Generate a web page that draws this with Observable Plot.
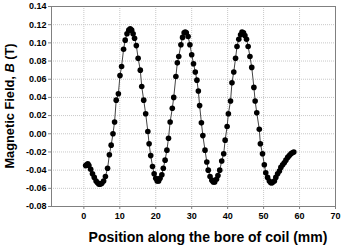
<!DOCTYPE html>
<html><head><meta charset="utf-8">
<script src="https://cdn.jsdelivr.net/npm/d3@7"></script>
<script src="https://cdn.jsdelivr.net/npm/@observablehq/plot@0.6"></script>
<style>body{margin:0;background:#fff}</style>
</head><body><div id="chart"></div>
<script>
const position = [0.5,0.8,1.1,1.4,1.9,2.4,2.9,3.4,3.8,4.2,4.6,5.0,5.5,6.0,6.6,7.1,7.6,8.1,8.55,9.0,9.6,10.05,10.5,11.05,11.5,12.0,12.5,12.9,13.3,13.7,14.1,14.6,15.1,15.7,16.1,16.65,17.2,17.8,18.15,18.6,19.1,19.55,20.0,20.4,20.8,21.2,21.7,22.1,22.6,23.1,23.55,24.0,24.6,25.0,25.6,26.0,26.4,27.0,27.45,27.9,28.2,28.5,29.0,29.5,30.0,30.5,31.0,31.45,31.85,32.2,32.7,33.1,33.7,34.2,34.6,35.1,35.6,36.0,36.4,36.9,37.3,37.8,38.35,38.9,39.3,39.85,40.2,40.8,41.2,41.7,42.2,42.6,43.1,43.6,44.0,44.4,44.8,45.25,45.7,46.2,46.7,47.3,47.65,48.1,48.8,49.1,49.7,50.2,50.6,51.1,51.6,52.0,52.4,53.0,53.4,53.9,54.4,54.8,55.3,55.75,56.2,56.7,57.15,57.6,58.0,58.4];
const field = [-0.035,-0.034,-0.033,-0.035,-0.039,-0.044,-0.048,-0.052,-0.054,-0.0555,-0.0555,-0.0545,-0.052,-0.047,-0.038,-0.023,-0.0125,0.000,0.013,0.037,0.044,0.064,0.074,0.093,0.103,0.110,0.114,0.1155,0.114,0.110,0.105,0.097,0.083,0.070,0.052,0.037,0.022,0.0025,-0.011,-0.024,-0.036,-0.044,-0.049,-0.052,-0.052,-0.049,-0.045,-0.038,-0.029,-0.018,-0.005,0.013,0.028,0.040,0.063,0.078,0.085,0.098,0.106,0.111,0.112,0.111,0.107,0.098,0.087,0.077,0.068,0.059,0.047,0.031,0.012,-0.002,-0.018,-0.031,-0.040,-0.047,-0.051,-0.053,-0.053,-0.050,-0.046,-0.040,-0.030,-0.022,-0.007,0.008,0.022,0.036,0.056,0.068,0.083,0.096,0.104,0.109,0.112,0.111,0.108,0.104,0.096,0.085,0.073,0.051,0.036,0.023,0.005,-0.011,-0.022,-0.034,-0.043,-0.048,-0.052,-0.054,-0.054,-0.052,-0.048,-0.044,-0.041,-0.037,-0.034,-0.032,-0.029,-0.026,-0.024,-0.022,-0.021,-0.020];
const xTicks = [0,10,20,30,40,50,60,70];
const yTicks = [-0.08,-0.06,-0.04,-0.02,0,0.02,0.04,0.06,0.08,0.10,0.12,0.14];
const xLabel = "Position along the bore of coil (mm)";
const yLabelParts = ["Magnetic Field, ", "B", " (T)"];

const data = position.map((p, i) => ({p, b: field[i]}));

const chart = Plot.plot({
  width: 342, height: 249,
  marginLeft: 51, marginRight: 7, marginTop: 6, marginBottom: 43,
  style: {fontFamily: "'Liberation Sans', Arial, sans-serif", fontWeight: "bold", fontSize: "9px", background: "#fff", color: "#000"},
  x: {domain: [-9, 70], ticks: xTicks, label: null},
  y: {domain: [-0.08, 0.14], ticks: yTicks, label: null},
  marks: [
    Plot.gridX(xTicks.filter(d => d < 70), {stroke: "#c8c8c8", strokeOpacity: 1, strokeDasharray: "1,1"}),
    Plot.gridY(yTicks.filter(d => d > -0.08 && d < 0.14), {stroke: "#c8c8c8", strokeOpacity: 1, strokeDasharray: "1,1"}),
    Plot.frame({stroke: "#808080"}),
    Plot.axisX({ticks: xTicks, tickSize: 3, tickPadding: 3, label: null, stroke: "#808080"}),
    Plot.axisY({ticks: yTicks, tickSize: 3, tickPadding: 2, label: null, tickFormat: d => d.toFixed(2), stroke: "#808080"}),
    Plot.line(data, {x: "p", y: "b", stroke: "#444", strokeWidth: 1}),
    Plot.dot(data, {x: "p", y: "b", r: 2.8, fill: "#000", stroke: "none"})
  ]
});

const svg = d3.select(chart);
svg.append("text")
  .attr("x", 208).attr("y", 242)
  .attr("text-anchor", "middle")
  .attr("font-size", "14px").attr("font-weight", "bold")
  .attr("fill", "#000")
  .text(xLabel);
const yl = svg.append("text")
  .attr("transform", "translate(14,106) rotate(-90)")
  .attr("text-anchor", "middle")
  .attr("font-size", "12.8px").attr("font-weight", "bold")
  .attr("fill", "#000");
yl.append("tspan").text(yLabelParts[0]);
yl.append("tspan").attr("font-style", "italic").text(yLabelParts[1]);
yl.append("tspan").text(yLabelParts[2]);

document.getElementById("chart").appendChild(chart);
</script>
</body></html>
